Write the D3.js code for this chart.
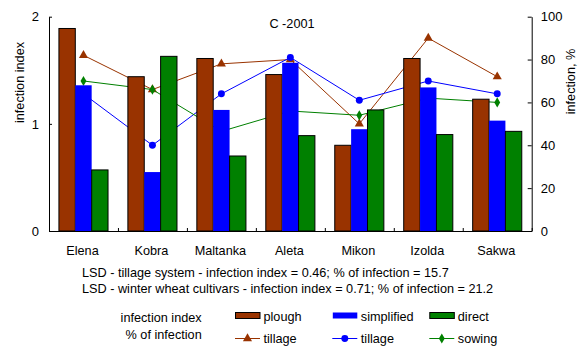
<!DOCTYPE html>
<html>
<head>
<meta charset="utf-8">
<script src="https://cdn.jsdelivr.net/npm/d3@7"></script>
<style>
  html, body { margin: 0; padding: 0; background: #fff; }
  svg text { font-family: "Liberation Sans", Arial, sans-serif; fill: #000; }
</style>
</head>
<body>
<svg id="chart" width="584" height="355"></svg>
<script>
const categories = ["Elena", "Kobra", "Maltanka", "Aleta", "Mikon", "Izolda", "Sakwa"];
const ploughIndex = [1.89, 1.44, 1.61, 1.46, 0.80, 1.61, 1.23];
const simplifiedIndex = [1.36, 0.55, 1.13, 1.57, 0.95, 1.34, 1.03];
const directIndex = [0.57, 1.63, 0.70, 0.89, 1.13, 0.90, 0.93];
const ploughPct = [82, 66, 78, 80, 50, 90, 72];
const simplifiedPct = [64, 40, 64, 81, 61, 70, 64];
const directPct = [70, 66, 46.5, 56, 54, 62, 60];
const leftTicks = [0, 1, 2];
const rightTicks = [0, 20, 40, 60, 80, 100];
const barSeries = ["plough", "simplified", "direct"];
const barNames = ["plough", "simplified", "direct"];
const lineNames = ["tillage", "tillage", "sowing"];
const title = "C -2001";
const lsdLines = [
  "LSD - tillage system - infection index = 0.46; % of infection = 15.7",
  "LSD - winter wheat cultivars - infection index = 0.71; % of infection = 21.2"
];

const colors = { plough: "#993300", simplified: "#0000FF", direct: "#008000" };
const strokes = { plough: "#000", simplified: "none", direct: "#000" };
const barData = { plough: ploughIndex, simplified: simplifiedIndex, direct: directIndex };
const lineData = { plough: ploughPct, simplified: simplifiedPct, direct: directPct };

const FS = 12.7;
const svg = d3.select("#chart");
const L = 49, R = 531.7, T = 16.7, B = 231;

const x0 = d3.scaleBand().domain(categories).range([L, R]).padding(0);
const bw = x0.bandwidth();
const groupGap = bw * 0.288;
const x1 = d3.scaleBand().domain(barSeries).range([groupGap / 2, bw - groupGap / 2]).padding(0);
const yL = d3.scaleLinear().domain([0, 2]).range([B, T]);
const yR = d3.scaleLinear().domain([0, 100]).range([B, T]);

// lines (drawn behind bars)
const symbols = { plough: d3.symbolTriangle, simplified: d3.symbolCircle, direct: d3.symbolDiamond };
const symSizes = { plough: 36, simplified: 38, direct: 30 };
function drawMarker(g, s, x, y) {
  g.append("path")
    .attr("d", d3.symbol().type(symbols[s]).size(symSizes[s])())
    .attr("transform", `translate(${x},${y})`)
    .attr("fill", colors[s]);
}
barSeries.forEach(s => {
  const pts = categories.map((c, i) => [x0(c) + bw / 2, yR(lineData[s][i])]);
  svg.append("path").attr("d", d3.line()(pts))
    .attr("fill", "none").attr("stroke", colors[s]).attr("stroke-width", 1);
  const g = svg.append("g");
  pts.forEach(p => drawMarker(g, s, p[0], p[1]));
});

// bars
categories.forEach((c, i) => {
  barSeries.forEach(s => {
    const v = barData[s][i];
    svg.append("rect")
      .attr("x", x0(c) + x1(s))
      .attr("y", yL(v))
      .attr("width", x1.bandwidth())
      .attr("height", B - yL(v))
      .attr("fill", colors[s])
      .attr("stroke", strokes[s])
      .attr("stroke-width", 1);
  });
});

// axes
const axL = d3.axisLeft(yL).tickValues(leftTicks).tickFormat(d3.format("d")).tickSizeInner(-3).tickSizeOuter(0).tickPadding(10);
const gL = svg.append("g").attr("transform", `translate(${L},0)`).call(axL);
const axR = d3.axisRight(yR).tickValues(rightTicks).tickFormat(d3.format("d")).tickSizeInner(-4).tickSizeOuter(0).tickPadding(9);
const gR = svg.append("g").attr("transform", `translate(${R},0)`).call(axR);
const xb = d3.scaleLinear().domain([0, categories.length]).range([L, R]);
const axB = d3.axisBottom(xb).tickValues(d3.range(0, categories.length + 1)).tickFormat("").tickSizeInner(-3).tickSizeOuter(0);
const gB = svg.append("g").attr("transform", `translate(0,${B})`).call(axB);
[gL, gR, gB].forEach(g => {
  g.selectAll("path.domain").attr("stroke", "#000").attr("stroke-width", 1);
  g.selectAll(".tick line").attr("stroke", "#000");
  g.selectAll(".tick text").attr("font-size", 13)
    .attr("font-family", "'Liberation Sans Narrow', 'Arial Narrow', 'Liberation Sans', Arial, sans-serif")
    .attr("fill", "#000");
});

// category labels
svg.append("g").selectAll("text").data(categories).join("text")
  .attr("x", d => x0(d) + bw / 2 - 1)
  .attr("y", 254.5)
  .attr("text-anchor", "middle").attr("font-size", FS)
  .text(d => d);

// axis titles
svg.append("text").attr("transform", "translate(24,82.5) rotate(-90)")
  .attr("text-anchor", "middle").attr("font-size", FS).text("infection index");
svg.append("text").attr("transform", "translate(575,81.5) rotate(-90)")
  .attr("text-anchor", "middle").attr("font-size", FS).text("infection, %");

// title
svg.append("text").attr("x", 292).attr("y", 28).attr("text-anchor", "middle")
  .attr("font-size", FS).text(title);

// LSD lines
lsdLines.forEach((t, i) => {
  svg.append("text").attr("x", 82).attr("y", 276.5 + i * 16).attr("font-size", FS).text(t);
});

// legend
svg.append("text").attr("x", 201.7).attr("y", 322).attr("text-anchor", "end").attr("font-size", FS).text("infection index");
svg.append("text").attr("x", 201.7).attr("y", 339).attr("text-anchor", "end").attr("font-size", FS).text("% of infection");
const legX = [235, 332.3, 429.3];
barSeries.forEach((s, i) => {
  const x = legX[i];
  svg.append("rect").attr("x", x + 0.5).attr("y", 312.5).attr("width", 24.5).attr("height", 6)
    .attr("fill", colors[s]).attr("stroke", strokes[s]);
  svg.append("text").attr("x", x + 28.5).attr("y", 320.5).attr("font-size", FS).text(barNames[i]);
  svg.append("line").attr("x1", x).attr("x2", x + 25).attr("y1", 338.5).attr("y2", 338.5)
    .attr("stroke", colors[s]);
  const g = svg.append("g");
  drawMarker(g, s, x + 12.5, 338.5);
  svg.append("text").attr("x", x + 28.5).attr("y", 342.5).attr("font-size", FS).text(lineNames[i]);
});
</script>
</body>
</html>
